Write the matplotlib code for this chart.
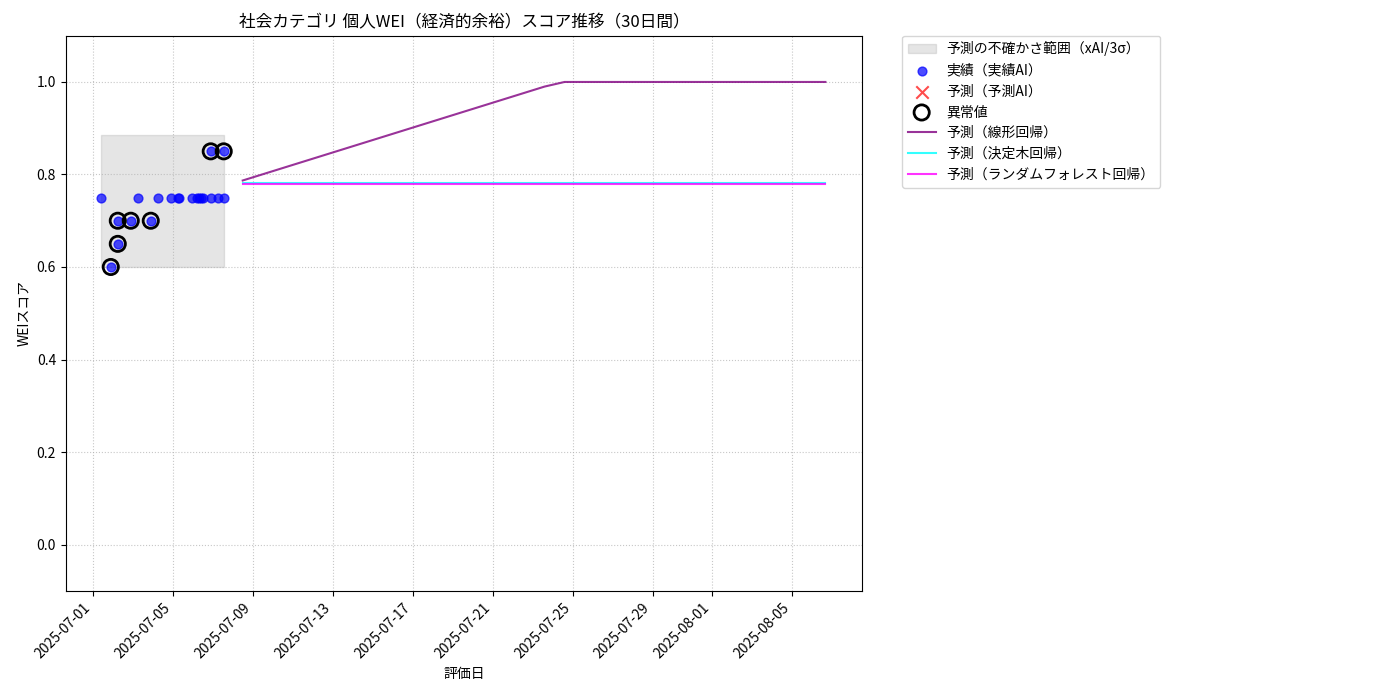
import matplotlib
matplotlib.use("Agg")
import matplotlib.pyplot as plt
import matplotlib.dates as mdates
import pandas as pd
import numpy as np

plt.rcParams['font.family'] = ['Noto Sans CJK JP', 'DejaVu Sans']

base = pd.Timestamp("2025-07-01")
act_days = [0.4, 0.9, 1.25, 1.25, 1.9, 2.25, 2.9, 3.25, 3.9, 4.25, 4.3, 4.95, 5.2, 5.3, 5.4, 5.5, 5.9, 5.9, 6.25, 6.55, 6.55]
act_vals = [0.75, 0.6, 0.65, 0.7, 0.7, 0.75, 0.7, 0.75, 0.75, 0.75, 0.75, 0.75, 0.75, 0.75, 0.75, 0.75, 0.85, 0.75, 0.75, 0.85, 0.75]
anom_days = [0.9, 1.25, 1.25, 1.9, 2.9, 5.9, 6.55]
anom_vals = [0.6, 0.65, 0.7, 0.7, 0.7, 0.85, 0.85]
band_days = [0.4, 6.55]
band_lo = [0.6, 0.6]
band_hi = [0.885, 0.885]
lin_days = [7.5, 22.6, 23.6, 36.65]
lin_vals = [0.787, 0.99, 1.0, 1.0]
tree_days = [7.5, 36.65]
tree_vals = [0.782, 0.782]
rf_days = [7.5, 36.65]
rf_vals = [0.780, 0.780]
tick_labels = ["2025-07-01", "2025-07-05", "2025-07-09", "2025-07-13", "2025-07-17",
               "2025-07-21", "2025-07-25", "2025-07-29", "2025-08-01", "2025-08-05"]

def d(days):
    return [base + pd.Timedelta(days=x) for x in days]

fig = plt.figure(figsize=(14, 7), dpi=100)
ax = fig.add_axes([0.047, 0.156, 0.569, 0.793])
ax.fill_between(d(band_days), band_lo, band_hi, color='gray', alpha=0.2, label='予測の不確かさ範囲（xAI/3σ）')
ax.scatter(d(act_days), act_vals, color='blue', alpha=0.7, s=40, label='実績（実績AI）', zorder=3)
ax.scatter([], [], color='red', marker='x', s=80, alpha=0.7, label='予測（予測AI）')
ax.scatter(d(anom_days), anom_vals, facecolors='none', edgecolors='black', s=120, linewidths=2, label='異常値', zorder=4)
ax.plot(d(lin_days), lin_vals, color='purple', alpha=0.8, label='予測（線形回帰）')
ax.plot(d(tree_days), tree_vals, color='cyan', alpha=0.8, label='予測（決定木回帰）')
ax.plot(d(rf_days), rf_vals, color='magenta', alpha=0.8, label='予測（ランダムフォレスト回帰）')

ax.set_ylim(-0.1, 1.1)
ax.set_xlim(base - pd.Timedelta(days=1.35), base + pd.Timedelta(days=38.5))
ticks = pd.to_datetime(tick_labels)
ax.set_xticks(ticks)
ax.set_xticklabels(tick_labels, rotation=45, ha='right')
ax.grid(True, linestyle=':', alpha=0.7)
ax.set_title('社会カテゴリ 個人WEI（経済的余裕）スコア推移（30日間）')
ax.set_xlabel('評価日')
ax.set_ylabel('WEIスコア')
ax.legend(loc='upper left', bbox_to_anchor=(1.05, 1.0), borderaxespad=0)
fig.savefig('out.png', dpi=100)
